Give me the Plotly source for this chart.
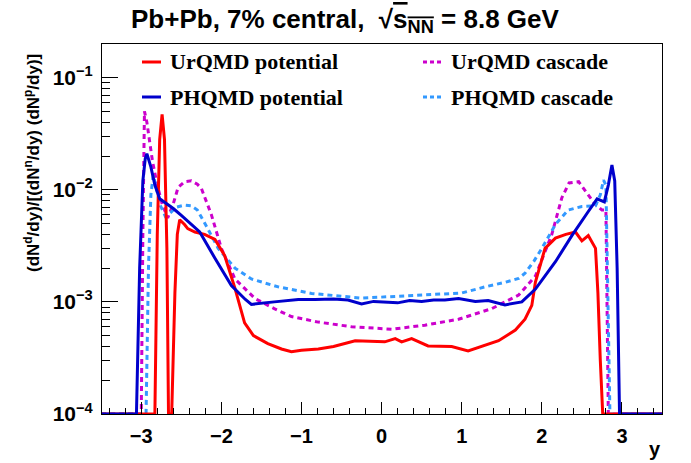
import plotly.graph_objects as go

# ---------------- data ----------------
urqmd_pot_x = [-3.5, -2.83, -2.80, -2.77, -2.74, -2.71, -2.68, -2.66, -2.62, -2.58, -2.55, -2.52,
               -2.46, -2.42, -2.33, -2.21, -2.08, -1.96, -1.83, -1.71, -1.6, -1.42, -1.25, -1.125,
               -1.0, -0.79, -0.6, -0.33, 0.04, 0.17, 0.25, 0.375, 0.58, 0.875, 1.08, 1.29, 1.46,
               1.67, 1.79, 1.875, 1.92, 2.04, 2.17, 2.3, 2.42, 2.5, 2.58, 2.67, 2.7, 2.73, 2.76, 3.5]
urqmd_pot_y = [1e-4, 1e-4, 0.004, 0.028, 0.047, 0.028, 0.003, 1e-4, 1e-4, 0.0012, 0.004, 0.0054,
               0.0049, 0.0045, 0.0042, 0.0040, 0.0036, 0.0026, 0.00132, 0.00065, 0.0005, 0.000425, 0.00038, 0.00036,
               0.00037, 0.00038, 0.0004, 0.00045, 0.00044, 0.00047, 0.00044, 0.00047, 0.000405, 0.0004, 0.000365, 0.00041, 0.00045,
               0.00056, 0.0007, 0.00093, 0.0015, 0.003, 0.0037, 0.004, 0.0042, 0.0035, 0.0039, 0.003, 0.0012, 0.0003, 1e-4, 1e-4]

urqmd_cas_x = [-3.5, -3.0, -2.98, -2.96, -2.93, -2.9, -2.86, -2.8, -2.74, -2.67, -2.6, -2.54,
               -2.46, -2.375, -2.3, -2.25, -2.125, -2.0, -1.83, -1.58, -1.34, -1.125, -0.79, -0.375,
               0.125, 0.54, 0.96, 1.375, 1.71, 1.92, 2.0, 2.125, 2.25, 2.34, 2.46, 2.58, 2.66, 2.75, 2.8, 2.83, 3.5]
urqmd_cas_y = [1e-4, 1e-4, 0.004, 0.05, 0.04, 0.028, 0.018, 0.011, 0.0075, 0.0056, 0.0075, 0.0105,
               0.0118, 0.012, 0.0112, 0.0103, 0.006, 0.003, 0.0016, 0.00107, 0.00087, 0.00074, 0.00066, 0.0006,
               0.00057, 0.00062, 0.0007, 0.00087, 0.00115, 0.0017, 0.0024, 0.004, 0.0085, 0.0115, 0.0118, 0.0089, 0.0075, 0.0066, 0.0066, 1e-4, 1e-4]

phqmd_pot_x = [-3.5, -3.06, -3.02, -2.98, -2.95, -2.93, -2.88, -2.83, -2.77, -2.69, -2.6, -2.5,
               -2.27, -2.08, -1.875, -1.7, -1.625, -1.34, -1.04, -0.83, -0.6, -0.42, -0.25, -0.1,
               0.04, 0.2, 0.35, 0.5, 0.65, 0.79, 0.96, 1.17, 1.33, 1.54, 1.75, 1.92, 2.17, 2.375,
               2.58, 2.69, 2.78, 2.83, 2.875, 2.91, 2.94, 2.97, 3.5]
phqmd_pot_y = [1e-4, 1e-4, 0.002, 0.012, 0.019, 0.021, 0.016, 0.011, 0.0083, 0.0076, 0.0068, 0.0059,
               0.0042, 0.00245, 0.0014, 0.00105, 0.00095, 0.001, 0.00105, 0.00105, 0.00106, 0.00104, 0.00096, 0.00101,
               0.001, 0.00098, 0.00103, 0.00101, 0.00104, 0.00104, 0.00107, 0.00101, 0.00103, 0.00094, 0.001, 0.0013, 0.00228, 0.0039,
               0.0064, 0.0083, 0.0078, 0.011, 0.0166, 0.012, 0.002, 1e-4, 1e-4]

phqmd_cas_x = [-3.5, -2.94, -2.91, -2.88, -2.85, -2.81, -2.76, -2.7, -2.64, -2.56, -2.46, -2.38,
               -2.3, -2.17, -2.04, -1.83, -1.625, -1.29, -1.04, -0.875, -0.25, 0.46, 1.0, 1.29,
               1.55, 1.71, 1.79, 1.9, 2.0, 2.17, 2.33, 2.5, 2.67, 2.73, 2.77, 2.8, 2.82, 2.85, 3.5]
phqmd_cas_y = [1e-4, 1e-4, 0.002, 0.009, 0.0135, 0.01, 0.0072, 0.0058, 0.0062, 0.007, 0.0073, 0.0072,
               0.0066, 0.0045, 0.003, 0.002, 0.0016, 0.00136, 0.00125, 0.00119, 0.00108, 0.00115, 0.0012, 0.00136,
               0.0015, 0.00162, 0.0018, 0.0023, 0.003, 0.0049, 0.0066, 0.0071, 0.0072, 0.009, 0.0122, 0.011, 0.002, 1e-4, 1e-4]

y_major = [1e-4, 1e-3, 1e-2, 1e-1]
y_major_text = ["10<sup>\u22124</sup>", "10<sup>\u22123</sup>", "10<sup>\u22122</sup>", "10<sup>\u22121</sup>"]
y_minor = [k * 10.0 ** e for e in (-4, -3, -2, -1) for k in range(2, 10) if k * 10.0 ** e <= 0.2]
x_major = [-3, -2, -1, 0, 1, 2, 3]

series = [
    ("UrQMD potential", urqmd_pot_x, urqmd_pot_y, "#ff0000", "solid"),
    ("UrQMD cascade", urqmd_cas_x, urqmd_cas_y, "#cc00cc", "5px,4px"),
    ("PHQMD potential", phqmd_pot_x, phqmd_pot_y, "#0000cc", "solid"),
    ("PHQMD cascade", phqmd_cas_x, phqmd_cas_y, "#3399ff", "5px,4px"),
]

# ---------------- figure ----------------
W, H = 691, 463
L, R, T, B = 102, 29, 44, 49
pw, ph = W - L - R, H - T - B

def px(xp):
    return (xp - L) / pw

def py(yp):
    return (H - B - yp) / ph

fig = go.Figure()
draw_order = [1, 3, 0, 2]
for i in draw_order:
    name, xs, ys, col, dash = series[i]
    fig.add_trace(go.Scatter(x=xs, y=ys, mode="lines", name=name,
                             line=dict(color=col, width=3, dash=dash),
                             showlegend=False, hoverinfo="skip"))

xfont = dict(family="Liberation Sans, Arial", size=20, color="black", weight="bold")
yfont = dict(family="Liberation Sans, Arial", size=21, color="black", weight="bold")

fig.update_layout(
    template="none",
    width=W, height=H,
    margin=dict(l=L, r=R, t=T, b=B, autoexpand=False),
    paper_bgcolor="white", plot_bgcolor="white",
    xaxis=dict(range=[-3.49, 3.5], tickmode="array", tickvals=x_major, automargin=False,
               ticks="inside", ticklen=12, tickwidth=1, tickcolor="black", ticklabelstandoff=4,
               minor=dict(ticks="inside", ticklen=6, dtick=0.2, tick0=0, tickcolor="black", showgrid=False),
               showgrid=False, zeroline=False, showline=True, linecolor="black", linewidth=1,
               mirror=True, tickfont=xfont),
    yaxis=dict(type="log", range=[-4, -0.7], tickmode="array", tickvals=y_major, automargin=False,
               ticktext=y_major_text, ticklabelstandoff=4,
               ticks="inside", ticklen=16, tickwidth=1, tickcolor="black",
               minor=dict(ticks="inside", ticklen=8, tickmode="array", tickvals=y_minor, tickcolor="black", showgrid=False),
               showgrid=False, zeroline=False, showline=True, linecolor="black", linewidth=1,
               mirror=True, tickfont=yfont),
)

annotations = [
    dict(text="<b>Pb+Pb, 7% central,  \u221a<span style='text-decoration:overline'>s<sub>NN</sub></span> = 8.8 GeV</b>",
         x=px(345), y=py(20), xref="paper", yref="paper", xanchor="center", yanchor="middle",
         showarrow=False, font=dict(family="Liberation Sans, Arial", size=26, color="black")),
    dict(text="<b>(dN<sup>d</sup>/dy)/[(dN<sup>n</sup>/dy) (dN<sup>p</sup>/dy)]</b>",
         x=px(32), y=py(163), xref="paper", yref="paper", xanchor="center", yanchor="middle",
         textangle=-90, showarrow=False, font=dict(family="Liberation Sans, Arial", size=17, color="black")),
    dict(text="<b>y</b>", x=px(655), y=py(449), xref="paper", yref="paper",
         xanchor="center", yanchor="middle", showarrow=False,
         font=dict(family="Liberation Sans, Arial", size=20, color="black")),
]

legend_pos = [(142, 62), (423, 62), (142, 97), (423, 97)]
shapes = []
for (name, xs, ys, col, dash), (lx, ly) in zip(series, legend_pos):
    shapes.append(dict(type="line", xref="paper", yref="paper",
                       x0=px(lx), x1=px(lx + 19), y0=py(ly), y1=py(ly),
                       line=dict(color=col, width=3, dash="4px,3px" if dash != "solid" else "solid")))
    annotations.append(dict(text="<b>" + name + "</b>", x=px(lx + 26), y=py(ly),
                            xref="paper", yref="paper", xanchor="left", yanchor="middle",
                            showarrow=False,
                            font=dict(family="Liberation Serif, Times New Roman", size=22, color="black")))

fig.update_layout(annotations=annotations, shapes=shapes)
fig.write_html("out.html", config={"displayModeBar": False},
               post_script="document.body.style.margin='0px';document.body.style.overflow='hidden';")
